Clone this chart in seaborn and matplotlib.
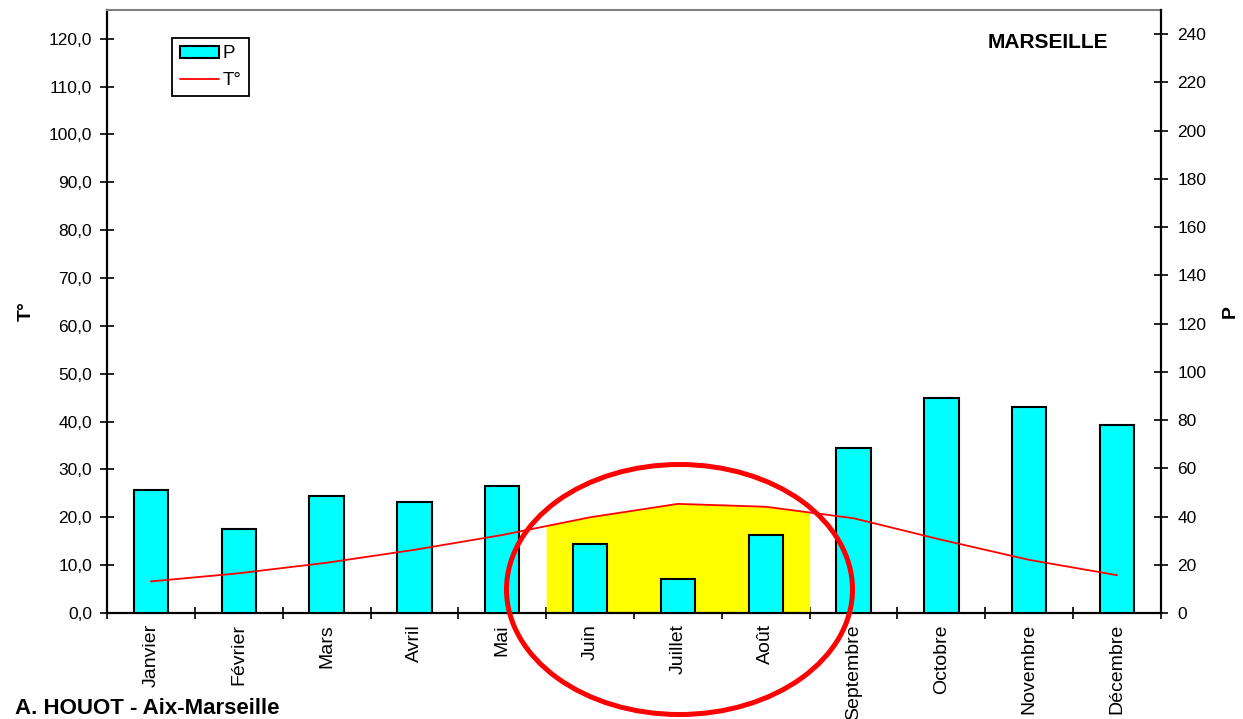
import numpy as np
import matplotlib
matplotlib.use("Agg")
import matplotlib.pyplot as plt
from matplotlib.patches import Ellipse
from matplotlib.ticker import FixedLocator, FuncFormatter, NullFormatter
import seaborn as sns

# ---- data ----
months = ["Janvier", "Février", "Mars", "Avril", "Mai", "Juin", "Juillet",
          "Août", "Septembre", "Octobre", "Novembre", "Décembre"]
precip = [51, 35, 48.5, 46, 52.5, 28.5, 14, 32.5, 68.5, 89, 85.5, 78]
temp = [6.6, 8.3, 10.5, 13.2, 16.3, 20.0, 22.8, 22.2, 19.8, 15.3, 11.1, 7.9]
dry_months = ["Juin", "Juillet", "Août"]
t_ticks = list(range(0, 121, 10))
p_ticks = list(range(0, 241, 20))
title = "MARSEILLE"
credit = "A. HOUOT - Aix-Marseille"
legend_labels = ["P", "T°"]

# ---- style ----
sns.set_style("white")
plt.rcParams["font.family"] = ["Liberation Sans", "DejaVu Sans"]
plt.rcParams["text.color"] = "black"
plt.rcParams["axes.labelcolor"] = "black"
plt.rcParams["xtick.color"] = "black"
plt.rcParams["ytick.color"] = "black"

W, H = 1243, 719
fig = plt.figure(figsize=(W / 100, H / 100), dpi=100)
ax0 = fig.add_axes([107 / W, 106 / H, 1054 / W, 603 / H])
ax1 = ax0.twinx()
ax2 = ax0.twinx()

pos = np.arange(len(months))

# yellow dry-season area under temperature curve (bottom layer)
i0 = months.index(dry_months[0])
i1 = months.index(dry_months[-1])
xf = np.concatenate([[i0 - 0.5], pos[i0:i1 + 1], [i1 + 0.5]])
yf = np.interp(xf, pos, temp)
ax0.fill_between(xf, 0, yf, color="#FFFF00", linewidth=0)

# precipitation bars (middle layer)
sns.barplot(x=pos, y=precip, ax=ax1, native_scale=True, color="#00FFFF",
            saturation=1, width=0.39, edgecolor="black", linewidth=1.5,
            errorbar=None)

# temperature line (top layer)
sns.lineplot(x=pos, y=temp, ax=ax2, color="#FF0000", linewidth=1.3)

# ---- axes ----
ax0.set_xlim(-0.5, len(months) - 0.5)
ax0.set_ylim(0, 126)
ax1.set_ylim(0, 250)
ax2.set_ylim(0, 126)

ax0.xaxis.set_major_locator(FixedLocator(np.arange(-0.5, len(months), 1)))
ax0.xaxis.set_major_formatter(NullFormatter())
ax0.xaxis.set_minor_locator(FixedLocator(pos))
ax0.xaxis.set_minor_formatter(FuncFormatter(lambda v, p: months[int(round(v))]))
ax0.tick_params(axis="x", which="major", direction="inout", length=9,
                width=1.2, color="black", bottom=True)
ax0.tick_params(axis="x", which="minor", length=0, pad=8, labelsize=14,
                labelrotation=90, bottom=True, labelcolor="black")
for lab in ax0.xaxis.get_minorticklabels():
    lab.set_va("top")

ax0.yaxis.set_major_locator(FixedLocator(t_ticks))
ax0.yaxis.set_major_formatter(FuncFormatter(lambda v, p: f"{v:.1f}".replace(".", ",")))
ax0.tick_params(axis="y", direction="inout", length=9.5, width=1.2,
                color="black", pad=6, labelsize=12.5, left=True, labelcolor="black")

ax1.yaxis.set_major_locator(FixedLocator(p_ticks))
ax1.yaxis.set_major_formatter(FuncFormatter(lambda v, p: f"{v:.0f}"))
ax1.tick_params(axis="y", direction="inout", length=9.5, width=1.2,
                color="black", pad=7, labelsize=12.5, right=True, labelcolor="black")

ax2.yaxis.set_visible(False)
ax1.set_xlabel("")
ax2.set_xlabel("")

ax0.set_ylabel("T°", fontsize=14, fontweight="bold", color="black")
ax0.yaxis.set_label_coords(-0.077, 0.50)
ax0.yaxis.label.set_va("center")
ax1.set_ylabel("P", fontsize=14, fontweight="bold", rotation=90, color="black")
ax1.yaxis.set_label_coords(1.0655, 0.50)
ax1.yaxis.label.set_va("center")

# spines
for sp in ["left", "bottom"]:
    ax0.spines[sp].set_color("black")
    ax0.spines[sp].set_linewidth(1.6)
ax0.spines["top"].set_color("#808080")
ax0.spines["top"].set_linewidth(1.5)
ax0.spines["right"].set_visible(False)
for sp in ["left", "bottom", "top"]:
    ax1.spines[sp].set_visible(False)
ax1.spines["right"].set_color("black")
ax1.spines["right"].set_linewidth(1.6)
for sp in ax2.spines.values():
    sp.set_visible(False)
ax0.grid(False); ax1.grid(False); ax2.grid(False)

# legend
handles = [ax1.patches[0], ax2.lines[0]]
leg = ax2.legend(handles, legend_labels, loc="upper left",
                 bbox_to_anchor=(172 / W, 1 - 38 / H), bbox_transform=fig.transFigure,
                 borderaxespad=0, fancybox=False, framealpha=1, edgecolor="black",
                 fontsize=13.5, handlelength=2.1, handleheight=0.6, labelspacing=0.5,
                 handletextpad=0.2, borderpad=0.4)
leg.get_frame().set_linewidth(1.3)

# texts
fig.text(1048 / W, 1 - 42 / H, title, ha="center", va="center",
         fontsize=15, fontweight="bold", color="black")
fig.text(15 / W, 1 - 708 / H, credit, ha="left", va="center",
         fontsize=16, fontweight="bold", color="black")

# red highlight ellipse
ell = Ellipse((679.5 / 100, (H - 589.5) / 100), 3.46, 2.50,
              transform=fig.dpi_scale_trans, fill=False, edgecolor="#FF0000",
              linewidth=3.6, zorder=10, clip_on=False)
fig.add_artist(ell)

fig.savefig("out.png", dpi=100)
